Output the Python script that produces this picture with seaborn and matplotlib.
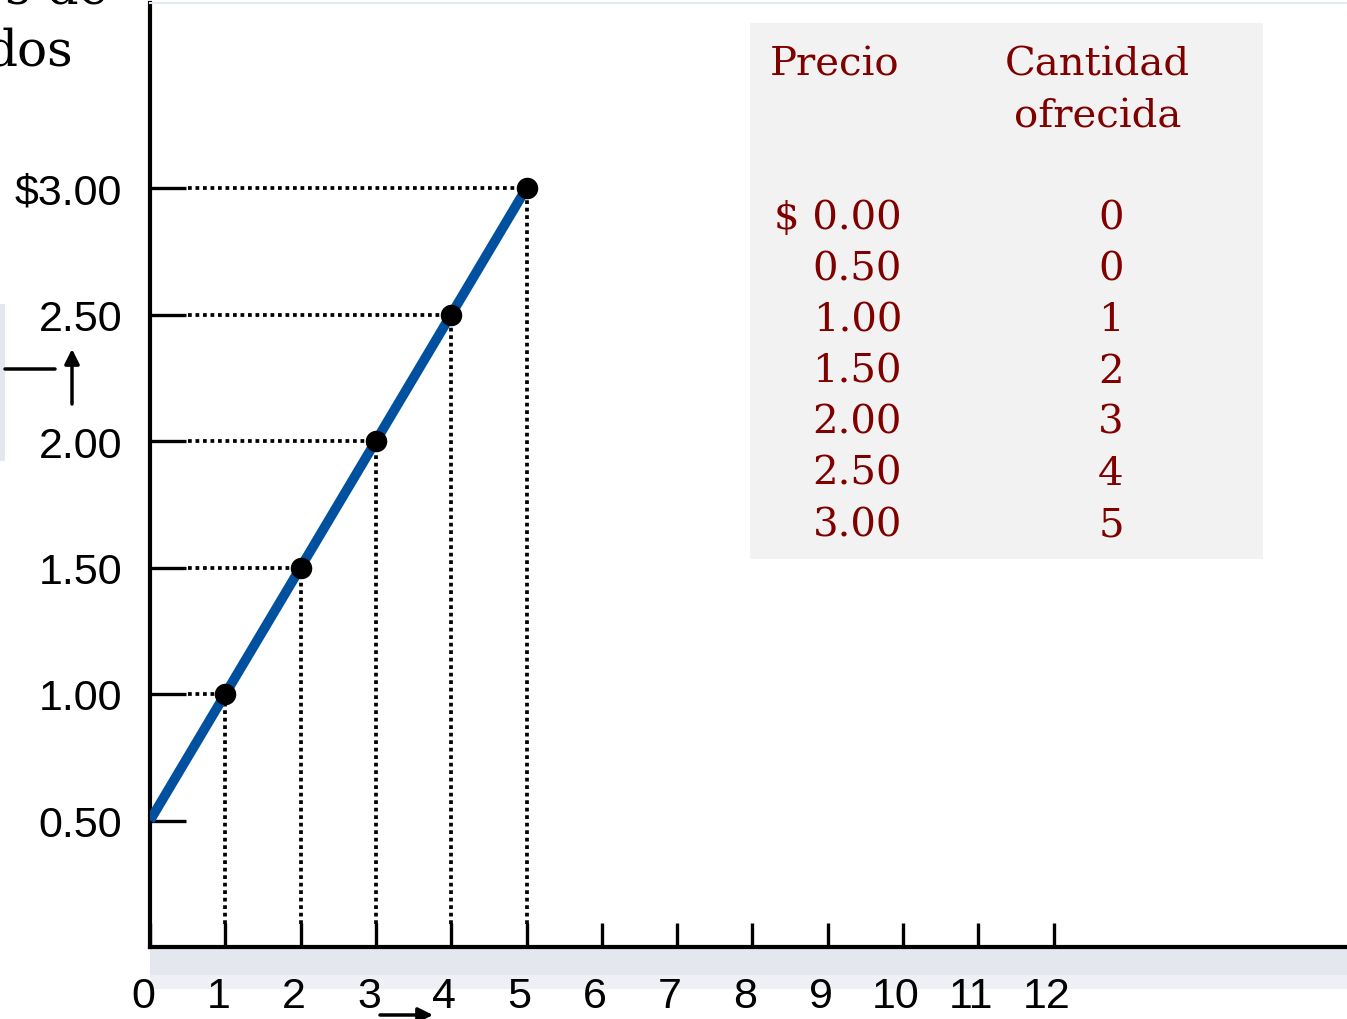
import matplotlib
matplotlib.use("Agg")
import matplotlib.pyplot as plt
import matplotlib.transforms as mtransforms
from matplotlib.patches import Rectangle
import seaborn as sns
import pandas as pd

# ---- data ----
prices = [0.00, 0.50, 1.00, 1.50, 2.00, 2.50, 3.00]
quantities = [0, 0, 1, 2, 3, 4, 5]
y_ticks = [0.50, 1.00, 1.50, 2.00, 2.50, 3.00]
y_tick_labels = ["0.50", "1.00", "1.50", "2.00", "2.50", "$3.00"]
x_ticks = list(range(0, 13))
x_tick_labels = [str(v) for v in x_ticks]
header_price = "Precio"
header_qty = ["Cantidad", "ofrecida"]
axis_title_lines = ["os de", "dos"]

df = pd.DataFrame({"precio": prices, "cantidad": quantities})
line_df = df[df["precio"] >= 0.5]
pts_df = df[df["cantidad"] >= 1]

W, H = 1347, 1020
sns.set_style("white")
plt.rcParams["font.family"] = ["Liberation Sans", "DejaVu Sans"]

fig = plt.figure(figsize=(W / 100, H / 100), dpi=100)
fig.patch.set_facecolor("white")

def fx(x):
    return x / W

def fy(y):
    return 1 - y / H

ax = fig.add_axes([fx(150), 72 / H, (W - 150) / W, (948 - 4) / H])
ax.set_facecolor("none")
ax.set_xlim(0, (W - 150) / 75.3)
ax.set_ylim(0, 944 / 253)

# dotted guides
for q, p in zip(pts_df["cantidad"], pts_df["precio"]):
    ax.plot([0.5, q], [p, p], color="black", lw=2.7, ls=(0, (1, 1.0)), zorder=2)
    ax.plot([q, q], [0.09, p], color="black", lw=2.7, ls=(0, (1, 1.0)), zorder=2)

sns.lineplot(data=line_df, x="cantidad", y="precio", ax=ax, color="#0050A0",
             lw=7, estimator=None, sort=True, zorder=3,
             solid_capstyle="butt")
sns.scatterplot(data=pts_df, x="cantidad", y="precio", ax=ax, color="black",
                s=240, edgecolor="black", linewidth=0, zorder=4)
ax.set_xlabel("")
ax.set_ylabel("")

# spines
for side in ["left", "bottom"]:
    ax.spines[side].set_color("black")
    ax.spines[side].set_linewidth(3)
ax.spines["right"].set_visible(False)
ax.spines["top"].set_color("#e6eaf2")
ax.spines["top"].set_linewidth(1.5)

ax.set_yticks(y_ticks)
ax.set_yticklabels(y_tick_labels)
ax.set_xticks(x_ticks)
ax.set_xticklabels(x_tick_labels)
ax.tick_params(axis="y", which="major", left=True, direction="in", length=26,
               width=2.4, pad=20, labelsize=31, colors="black")
ax.tick_params(axis="x", which="major", bottom=True, direction="in", length=17,
               width=2.4, pad=21, labelsize=31, colors="black")
offset = mtransforms.ScaledTranslation(-7 / 100, 0, fig.dpi_scale_trans)
for lab in ax.get_xticklabels():
    lab.set_transform(lab.get_transform() + offset)

# shadow band under x axis
fig.patches.append(Rectangle((fx(150), fy(976)), (W - 150) / W, 26 / H,
                             transform=fig.transFigure, color="#e4e7ee",
                             zorder=-1, lw=0))
fig.patches.append(Rectangle((fx(150), fy(990)), (W - 150) / W, 14 / H,
                             transform=fig.transFigure, color="#eef0f5",
                             zorder=-1, lw=0))

# left decorative box
fig.patches.append(Rectangle((fx(0), fy(462)), 5 / W, 157 / H,
                             transform=fig.transFigure, color="#e3e7ee",
                             zorder=-1, lw=0))
ax.annotate("", xy=(55, H - 370), xytext=(5, H - 370), xycoords="figure pixels",
            arrowprops=dict(arrowstyle="-", lw=2.5, color="black",
                            shrinkA=0, shrinkB=0),
            annotation_clip=False)
ax.annotate("", xy=(72, H - 350), xytext=(72, H - 405), xycoords="figure pixels",
            arrowprops=dict(arrowstyle="-|>", lw=2.5, color="black",
                            mutation_scale=22, shrinkA=0, shrinkB=0),
            annotation_clip=False)
ax.annotate("", xy=(433, H - 1016), xytext=(380, H - 1016), xycoords="figure pixels",
            arrowprops=dict(arrowstyle="-|>", lw=2.5, color="black",
                            mutation_scale=22, shrinkA=0, shrinkB=0),
            annotation_clip=False)

# partial axis title (top-left), cut by the edge as in the reference
fig.text(fx(108), fy(4), axis_title_lines[0], ha="right", va="baseline",
         fontsize=36, family="DejaVu Serif", color="black")
fig.text(fx(73), fy(66), axis_title_lines[1], ha="right", va="baseline",
         fontsize=36, family="DejaVu Serif", color="black")

# table box
fig.patches.append(Rectangle((fx(750), fy(560)), 513 / W, 536 / H,
                             transform=fig.transFigure, color="#f2f2f2",
                             zorder=-1, lw=0))
red = "#800000"
tkw = dict(family="DejaVu Serif", fontsize=29, color=red)
fig.text(fx(770), fy(76), header_price, ha="left", va="baseline", **tkw)
fig.text(fx(1097), fy(76), header_qty[0], ha="center", va="baseline", **tkw)
fig.text(fx(1098), fy(127), header_qty[1], ha="center", va="baseline", **tkw)
for i, (p, q) in enumerate(zip(prices, quantities)):
    base = 229 + i * 51.2
    label = f"$ {p:.2f}" if i == 0 else f"{p:.2f}"
    fig.text(fx(902), fy(base), label, ha="right", va="baseline", **tkw)
    fig.text(fx(1111), fy(base), str(q), ha="center", va="baseline", **tkw)

fig.savefig("out.png", dpi=100, facecolor="white")
